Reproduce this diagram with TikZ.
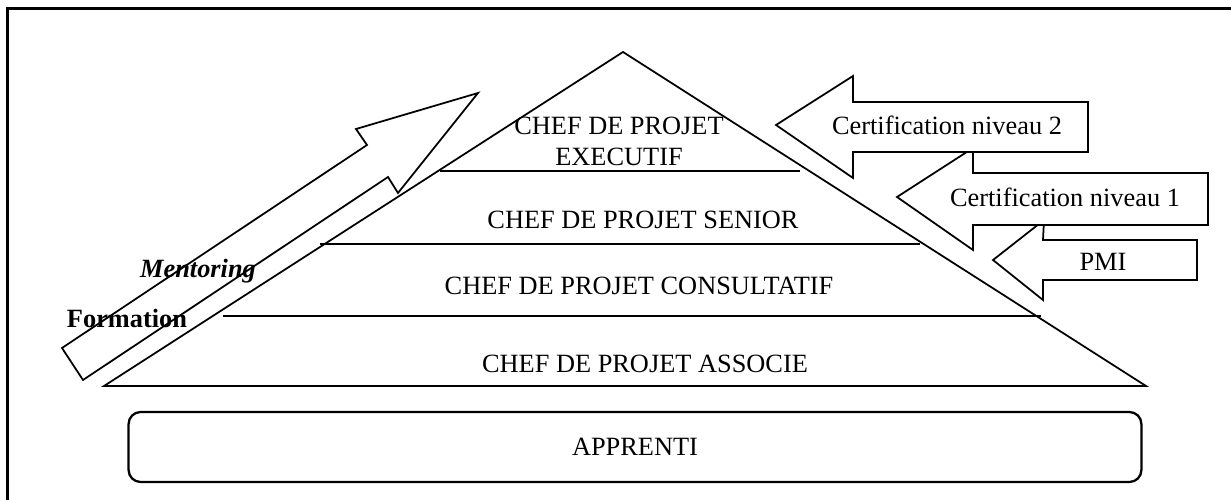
\documentclass[tikz,border=0pt]{standalone}
\usepackage{fontspec}
\setmainfont{Liberation Serif}
\begin{document}
\begin{tikzpicture}[x=0.02cm,y=-0.02cm,
  lbl/.style={font=\fontsize{15}{17.6}\selectfont, inner sep=0pt, align=center},
  outline/.style={draw=black, line width=1pt, line join=miter, fill=white},
  level/.style={draw=black, line width=1.3pt},
  frame/.style={draw=black, line width=1.3pt}]
\useasboundingbox (0,0) rectangle (1231,500);
% outer frame
\draw[frame] (7.5,500) -- (7.5,8.5) -- (1231,8.5);
% pyramid
\draw[outline] (623,52) -- (1146,386) -- (104,386) -- cycle;
\draw[level] (440,171) -- (800,171);
\draw[level] (320,244) -- (920,244);
\draw[level] (223,316) -- (1041,316);
\node[lbl] (exec) at (619,141) {CHEF DE PROJET\\EXECUTIF};
\node[lbl] (senior) at (643,220) {CHEF DE PROJET SENIOR};
\node[lbl] (consult) at (639,286) {CHEF DE PROJET CONSULTATIF};
\node[lbl] (assoc) at (645,364) {CHEF DE PROJET ASSOCIE};
% apprenti
\node[lbl, draw, line width=1.3pt, rounded corners=0.24cm,
      minimum width=20.26cm, minimum height=1.40cm] (apprenti) at (635,447) {APPRENTI};
% left rising arrow
\draw[outline] (83,380) -- (62,348) -- (367,145) -- (356,129) -- (478,93)
  -- (398,193) -- (388,177) -- cycle;
\node[lbl, font=\fontsize{15}{18}\selectfont\bfseries\itshape] (mentor) at (198,271) {Mentoring};
\node[lbl, font=\fontsize{15}{18}\selectfont\bfseries] (form) at (127,318) {Formation};
% certification arrows
\draw[outline] (993,260) -- (1044,220) -- (1043,240) -- (1197,240) -- (1197,280)
  -- (1043,280) -- (1043,300) -- cycle;
\draw[outline] (897,197) -- (973,148) -- (973,173) -- (1208,173) -- (1208,225)
  -- (973,225) -- (973,250) -- cycle;
\draw[outline] (776,125) -- (853,76) -- (853,102) -- (1088,102) -- (1088,152)
  -- (853,152) -- (853,178) -- cycle;
\node[lbl] (pmi) at (1103,262) {PMI};
\node[lbl] (cert1) at (1065,197) {Certification niveau 1};
\node[lbl] (cert2) at (947,125) {Certification niveau 2};
\end{tikzpicture}
\end{document}
